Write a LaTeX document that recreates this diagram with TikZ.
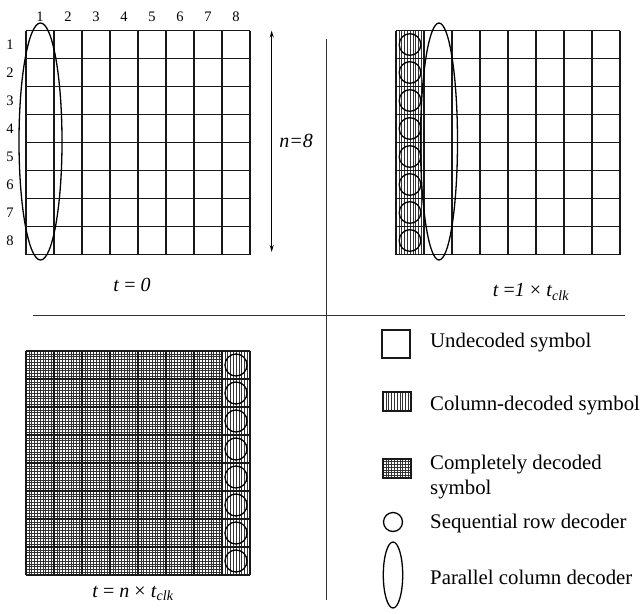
\documentclass[tikz,border=0pt]{standalone}
\usepackage{fontspec}
\setmainfont{Liberation Serif}
\usetikzlibrary{arrows.meta,positioning}

\begin{document}
\begin{tikzpicture}[x=1pt, y=-1pt,
  cellgrid/.style={line width=1.5pt, black!90},
  hatch/.style={line width=0.45pt, black!80},
  decoder/.style={line width=1.3pt, black},
  divider/.style={line width=1pt, black!80},
  clock/.style={font=\fontsize{20}{24}\selectfont, inner sep=0pt},
  index/.style={font=\fontsize{14.5}{16}\selectfont, inner sep=0pt},
  legtext/.style={font=\fontsize{20.8}{25}\selectfont, anchor=west, align=left, inner sep=0pt}]

  \useasboundingbox (0,0) rectangle (644,613);

  % dividers
  \coordinate (vtop) at (326,39);
  \coordinate (vbot) at (326,600);
  \coordinate (hleft) at (33,315.7);
  \coordinate (hright) at (625,315.7);
  \draw[divider] (vtop) -- (vbot);
  \draw[divider] (hleft) -- (hright);

  % t = 0
  \begin{scope}[shift={(26,30.5)}]
    \foreach \i in {0,...,8} {
      \draw[cellgrid] (28*\i,0) -- (28*\i,224);
      \draw[cellgrid] (0,28*\i) -- (224,28*\i);
    }
    \foreach \i in {1,...,8} {
      \node[index] (col\i) at (28*\i-14,-13.5) {\i};
      \node[index] (row\i) at (-16,28*\i-14) {\i};
    }
    \draw[decoder] (14.5,111) ellipse [x radius=21.5, y radius=118.5];
  \end{scope}
  \coordinate (ntop) at (271.7,30.5);
  \coordinate (nbot) at (271.7,252);
  \draw[{Stealth[length=7pt,width=4pt]}-{Stealth[length=7pt,width=4pt]}, line width=1.3pt]
    (ntop) -- (nbot) node[midway, right=7pt, clock] (nlen) {\textit{n=8}};
  \node[clock] (t0) at (132,285) {\textit{t} = \textit{0}};

  % t = 1 x tclk
  \begin{scope}[shift={(396,30.5)}]
    \foreach \k in {1,...,9}
      \draw[hatch] (2.8*\k,0) -- (2.8*\k,224);
    \foreach \i in {0,...,8} {
      \draw[cellgrid] (28*\i,0) -- (28*\i,224);
      \draw[cellgrid] (0,28*\i) -- (224,28*\i);
    }
    \foreach \i in {1,...,8}
      \draw[decoder] (14,28*\i-14) circle [radius=10.8];
    \draw[decoder] (43,111) ellipse [x radius=18.5, y radius=118.5];
  \end{scope}
  \node[clock] (t1) at (531,292) {\textit{t} =\textit{1} × \textit{t}\textsubscript{\textit{clk}}};

  % t = n x tclk
  \begin{scope}[shift={(26,351)}]
    \foreach \k in {1,...,79}
      \draw[hatch] (2.8*\k,0) -- (2.8*\k,224);
    \foreach \k in {1,...,79}
      \draw[hatch] (0,2.8*\k) -- (196,2.8*\k);
    \foreach \i in {0,...,8} {
      \draw[cellgrid] (28*\i,0) -- (28*\i,224);
      \draw[cellgrid] (0,28*\i) -- (224,28*\i);
    }
    \foreach \i in {1,...,8}
      \draw[decoder] (210,28*\i-14) circle [radius=11];
  \end{scope}
  \node[clock] (tn) at (133,593) {\textit{t} = \textit{n} × \textit{t}\textsubscript{\textit{clk}}};

  % legend
  \draw[cellgrid] (382,330) rectangle (410,358);
  \foreach \k in {1,...,9}
    \draw[hatch] (383+2.8*\k,392) -- (383+2.8*\k,411);
  \draw[cellgrid] (383,392) rectangle (411,411);
  \foreach \k in {1,...,9}
    \draw[hatch] (383+2.8*\k,459) -- (383+2.8*\k,478);
  \foreach \k in {1,...,6}
    \draw[hatch] (383,459+2.7*\k) -- (411,459+2.7*\k);
  \draw[cellgrid] (383,459) rectangle (411,478);
  \draw[decoder] (393,522) circle [radius=9.5];
  \draw[decoder] (393,575) ellipse [x radius=9.7, y radius=33];

  \node[legtext] (lundec) at (430,343) {Undecoded symbol};
  \node[legtext] (lcol) at (430,406) {Column-decoded symbol};
  \node[legtext] (lfull) at (430,477) {Completely decoded\\symbol};
  \node[legtext] (lrow) at (430,523) {Sequential row decoder};
  \node[legtext] (lpar) at (430,577) {Parallel column decoder};
\end{tikzpicture}
\end{document}
